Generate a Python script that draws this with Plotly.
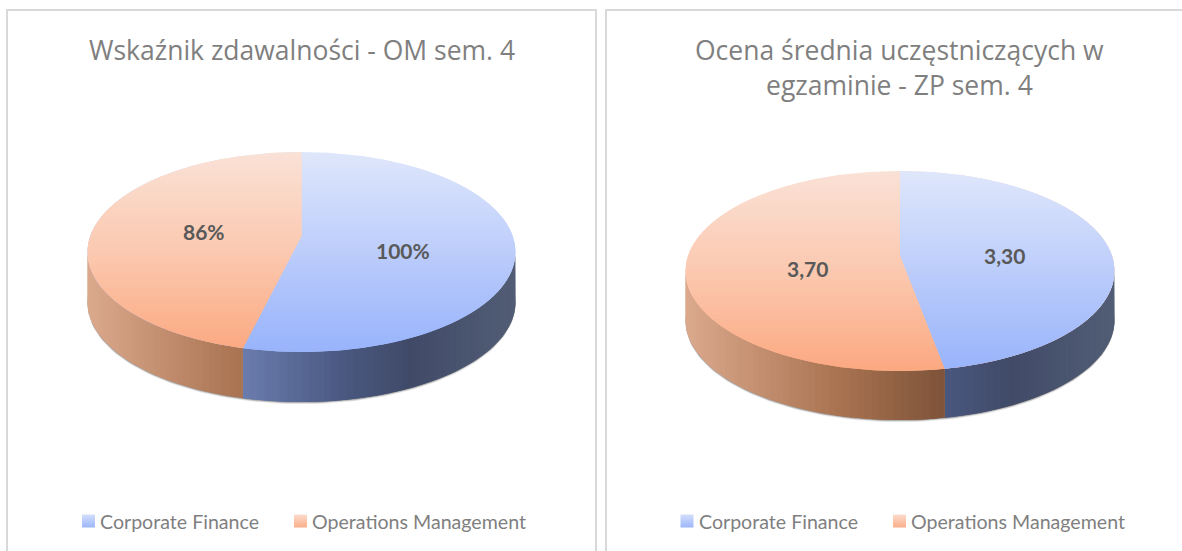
import numpy as np
import plotly.graph_objects as go

# ---- data ----
categories = ["Corporate Finance", "Operations Management"]
om_values = [100, 86]
zp_values = [3.30, 3.70]
om_labels = ["100%", "86%"]
zp_labels = ["3,30", "3,70"]
om_title = ["Wskaźnik zdawalności - OM sem. 4"]
zp_title = ["Ocena średnia uczęstniczących w", "egzaminie - ZP sem. 4"]

# ---- layout / style ----
W, H = 1182, 551
FONT = "Lato"
TITLE_FONT = "Open Sans"
PERSPECTIVE = 0.16
PIES = [
    dict(vals=om_values, labs=om_labels, cx=301.5, cy=252, rx=214, ry=100, depth=50,
         lab_xy=[(403, 250.5), (204, 231.5)], title=om_title, title_y=[29.5], title_x=301.5,
         swatch_x=[88.5, 300.5], text_x=[98, 310]),
    dict(vals=zp_values, labs=zp_labels, cx=900, cy=271, rx=214.5, ry=100, depth=49,
         lab_xy=[(1004, 255.5), (807, 268.5)], title=zp_title, title_y=[29.5, 64.5], title_x=899.5,
         swatch_x=[687, 899.5], text_x=[697, 909]),
]
LEG_Y = 521
TOP = [[(0.0, "#dfe7fb"), (0.5, "#bccdfb"), (1.0, "#98b3fb")],
       [(0.0, "#fae1d6"), (0.5, "#fbc9b0"), (1.0, "#fba880")]]
SIDE = [[(-1.0, "#6f82b6"), (-0.27, "#6a7cae"), (0.2, "#4a5880"), (0.5, "#404a68"), (1.0, "#525d75")],
        [(-1.0, "#dba98d"), (-0.27, "#a87250"), (0.21, "#7d5339"), (1.0, "#7d5339")]]
SWATCH = [("#d3defb", "#9db7fb"), ("#fbdccd", "#fbae88")]


def hex_rgb(h):
    return np.array([int(h[i:i + 2], 16) for i in (1, 3, 5)], dtype=float)


def ramp(stops, t):
    ts = [s[0] for s in stops]
    cs = np.array([hex_rgb(s[1]) for s in stops])
    c = [np.interp(t, ts, cs[:, k]) for k in range(3)]
    return "rgb(%d,%d,%d)" % tuple(round(v) for v in c)


def warp(a_deg):
    """Angle on the tilted, perspective-projected disc for a true pie angle."""
    a = np.radians(a_deg)
    s, c = np.sin(a), np.cos(a)
    e = PERSPECTIVE
    den = 1 + e * c
    return np.degrees(np.arctan2(np.sqrt(1 - e * e) * s / den, (e + c) / den)) % 360


def clip_band(poly, y0, y1):
    def clip(pts, keep, cross):
        out = []
        for i in range(len(pts)):
            a, b = pts[i], pts[(i + 1) % len(pts)]
            if keep(a):
                out.append(a)
            if keep(a) != keep(b):
                out.append(cross(a, b))
        return out

    def at(yv):
        return lambda a, b: (a[0] + (yv - a[1]) / (b[1] - a[1]) * (b[0] - a[0]), yv)

    pts = clip(poly, lambda p: p[1] >= y0, at(y0))
    if pts:
        pts = clip(pts, lambda p: p[1] <= y1, at(y1))
    return pts


fig = go.Figure()


def poly_trace(xs, ys, color):
    fig.add_trace(go.Scatter(x=list(xs), y=list(ys), mode="lines", fill="toself",
                             fillcolor=color, line=dict(width=0),
                             hoverinfo="skip", showlegend=False))


annotations = []
for p in PIES:
    v = np.array(p["vals"], dtype=float)
    split = float(warp(360 * v[0] / v.sum()))   # clockwise from 12 o'clock
    cx, cy, rx, ry, d = p["cx"], p["cy"], p["rx"], p["ry"], p["depth"]
    ex = lambda a: cx + rx * np.sin(np.radians(a))
    ey = lambda a: cy - ry * np.cos(np.radians(a))
    apex = (cx, cy - PERSPECTIVE * ry)

    # soft shadow under the rim
    for grow, alpha in ((2.2, 0.12), (1.4, 0.25), (0.7, 0.35)):
        a = np.linspace(0, 360, 181)
        poly_trace(ex(a), ey(a) + d + grow, "rgba(90,90,90,%.2f)" % alpha)

    # side wall, front half only; each strip overlaps the next to hide seams
    for idx, (lo, hi) in enumerate(((90.0, split), (split, 270.0))):
        edges = np.linspace(lo, hi, int((hi - lo) / 2) + 2)
        for k in range(len(edges) - 1):
            a0, a1 = edges[k], edges[min(k + 2, len(edges) - 1)]
            mid = (edges[k] + edges[k + 1]) / 2
            arc = np.linspace(a0, a1, 6)
            xs = np.r_[ex(arc), ex(arc)[::-1]]
            ys = np.r_[ey(arc), ey(arc)[::-1] + d]
            poly_trace(xs, ys, ramp(SIDE[idx], np.sin(np.radians(mid))))

    # top face: horizontal gradient strips, each overlapping the next
    big = 0 if v[0] >= v[1] else 1
    small = 1 - big
    arc = np.linspace(0, 360, 361)[:-1]
    whole = list(zip(ex(arc), ey(arc)))
    wa = np.linspace(split, 360, 160) if small == 1 else np.linspace(0, split, 160)
    wedge = [apex] + list(zip(ex(wa), ey(wa)))
    bands = np.linspace(cy - ry, cy + ry, 51)
    step = bands[1] - bands[0]
    for idx, poly in ((big, whole), (small, wedge)):
        for y0, y1 in zip(bands[:-1], bands[1:]):
            pts = clip_band(poly, y0, y1 + step)
            if len(pts) >= 3:
                pts = pts + [pts[0]]
                t = ((y0 + y1) / 2 - (cy - ry)) / (2 * ry)
                poly_trace([q[0] for q in pts], [q[1] for q in pts], ramp(TOP[idx], t))

    # value labels
    for lab, (lx, ly) in zip(p["labs"], p["lab_xy"]):
        annotations.append(dict(x=lx, y=ly, text=lab, showarrow=False, xanchor="center", yanchor="middle",
                                font=dict(family=FONT, size=21, color="#595959", weight="bold")))
    # title
    for line, ty in zip(p["title"], p["title_y"]):
        annotations.append(dict(x=p["title_x"], y=ty, text=line, showarrow=False,
                                xanchor="center", yanchor="top", align="center",
                                font=dict(family=TITLE_FONT, size=26.5, color="#7f7f7f")))
    # legend
    for i, sx in enumerate(p["swatch_x"]):
        fig.add_trace(go.Scatter(x=[sx], y=[LEG_Y], mode="markers", name=categories[i], showlegend=False,
                                 hoverinfo="skip",
                                 marker=dict(symbol="square", size=13, color=SWATCH[i][0],
                                             gradient=dict(type="vertical", color=SWATCH[i][1]),
                                             line=dict(width=0))))
        annotations.append(dict(x=p["text_x"][i], y=LEG_Y, text=categories[i], showarrow=False,
                                xanchor="left", yanchor="middle",
                                font=dict(family=FONT, size=19.6, color="#7f7f7f")))

BORDER = "#d9d9d9"
shapes = []
for x0, x1 in ((7, 596), (606, 1200)):
    shapes.append(dict(type="rect", x0=x0, x1=x1, y0=10, y1=600, line=dict(color=BORDER, width=2),
                       fillcolor="rgba(0,0,0,0)", layer="below"))

fig.update_layout(
    width=W, height=H, margin=dict(l=0, r=0, t=0, b=0),
    paper_bgcolor="white", plot_bgcolor="white", showlegend=False,
    xaxis=dict(range=[0, W], visible=False, fixedrange=True),
    yaxis=dict(range=[H, 0], visible=False, fixedrange=True),
    annotations=annotations, shapes=shapes,
)
fig.write_html("out.html", config=dict(displayModeBar=False),
               post_script="document.body.style.margin='0';document.documentElement.style.overflow='hidden';")
